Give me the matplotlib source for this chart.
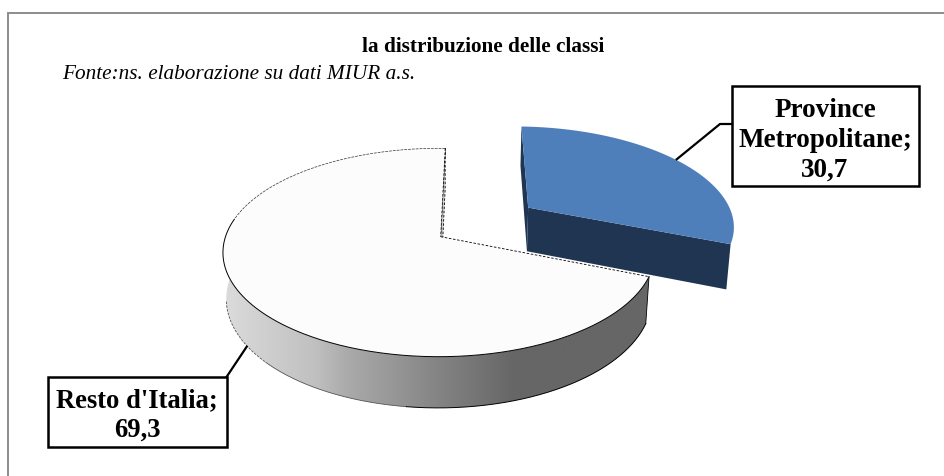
import numpy as np
from matplotlib import pyplot as plt
from matplotlib.colors import LinearSegmentedColormap
from matplotlib.patches import Polygon, Rectangle

plt.rcParams['font.family'] = ['Liberation Serif', 'DejaVu Serif']

categories = ['Province\nMetropolitane', "Resto d'Italia"]
values = [30.7, 69.3]
value_labels = ['30,7', '69,3']
title = 'la distribuzione delle classi'
source = 'Fonte:ns. elaborazione su dati MIUR a.s.'

# camera for the fake 3D pie, in pixels of the 944x476 canvas
cx, cy = 440.7, 236.7
rx, ry = 213.5, 101.8
persp, persp_x, persp_z = 0.1516, 0.008, 0.015
depth = 46.0
start_angle = 88.6
explode = 0.524
explode_angle = 34.9


def project(x, y, z=0.0):
    den = 1 + persp * y + persp_x * x + persp_z * z
    return cx + rx * x / den, cy - ry * y / den + depth * z / den


def rim(a1, a2, z=0.0, off=(0.0, 0.0), n=200):
    t = np.radians(np.linspace(a1, a2, n))
    u, v = project(np.cos(t) + off[0], np.sin(t) + off[1], z)
    return np.column_stack([u, v])


def polygon(ax, pts, **kwargs):
    p = Polygon(pts, closed=True, **kwargs)
    ax.add_patch(p)
    return p


fig = plt.figure(figsize=(9.44, 4.76), dpi=100)
ax = fig.add_axes([0, 0, 1, 1])

sweep = [v / sum(values) * 360 for v in values]
blue_start = start_angle - sweep[0]
off = (explode * np.cos(np.radians(explode_angle)), explode * np.sin(np.radians(explode_angle)))

# big slice: inner face seen through the gap
corner = project(np.cos(np.radians(start_angle)), np.sin(np.radians(start_angle)))
corner_low = project(np.cos(np.radians(start_angle)), np.sin(np.radians(start_angle)), 1)
polygon(ax, [corner, corner_low, project(0, 0, 1), project(0, 0)], facecolor='#d0d0d0',
        edgecolor='black', lw=0.6, ls=(0, (3, 2)), zorder=1)

# big slice: outer wall with the grey ramp
wall_pts = np.vstack([rim(165, blue_start + 360), rim(blue_start + 360, 165, 1)])
wall = polygon(ax, wall_pts, facecolor='none', edgecolor='none', zorder=2)
ramp = LinearSegmentedColormap.from_list('ramp', [(0, '#dcdcdc'), (0.217, '#c0c0c0'), (0.294, '#aaaaaa'),
                                                  (0.528, '#808080'), (0.685, '#666666'), (1, '#666666')])
img = ax.imshow(np.linspace(0, 1, 256).reshape(1, -1), cmap=ramp, extent=(222, 650, 410, 250),
                aspect='auto', zorder=2)
img.set_clip_path(wall)
ax.plot(*rim(190, 222, 1).T, color='#555555', lw=0.6, ls=(0, (3, 1.5)), zorder=3)
ax.plot(*rim(222, 262, 1).T, color='#555555', lw=0.6, zorder=3)
ax.plot(*rim(262, blue_start + 360, 1).T, color='black', lw=0.7, zorder=3)
ax.plot(*np.vstack([rim(blue_start, blue_start, 0, n=1), rim(blue_start, blue_start, 1, n=1)]).T,
        color='black', lw=0.6, zorder=3)

# big slice: top
top = np.vstack([[project(0, 0)], rim(start_angle, blue_start + 360)])
polygon(ax, top, facecolor='#fcfcfc', edgecolor='none', zorder=4)
ax.plot(*rim(start_angle, 170).T, color='#333333', lw=0.5, ls=(0, (4, 1.5)), zorder=5)
ax.plot(*rim(170, blue_start + 360).T, color='black', lw=0.7, zorder=5)
ax.plot(*np.vstack([corner, project(0, 0)]).T, color='black', lw=0.6, ls=(0, (3, 2)), zorder=5)
edge = np.vstack([[project(0, 0)], rim(blue_start, blue_start, n=1)])
ax.plot(*edge.T, color='black', lw=0.6, ls=(0, (3, 2)), zorder=5)

# exploded slice
blue_top = np.vstack([[project(*off)], rim(blue_start, start_angle, off=off)])
a = np.radians(blue_start)
b = np.radians(start_angle)
right = (np.cos(a) + off[0], np.sin(a) + off[1])
back = (np.cos(b) + off[0], np.sin(b) + off[1])
polygon(ax, [project(*off), project(*back), project(*back, 1), project(*off, 1)],
        facecolor='#1f3552', edgecolor='none', zorder=6)
polygon(ax, [project(*off), project(*right), project(*right, 1), project(*off, 1)],
        facecolor='#1f3552', edgecolor='none', zorder=6)
polygon(ax, blue_top, facecolor='#4f7fbb', edgecolor='none', zorder=7)

# frame, only top and left are visible
ax.plot([8, 8, 944], [476, 12.5, 12.5], color='#8c8c8c', lw=1.4, zorder=0, solid_joinstyle='miter')

ax.text(483, 52, title, fontsize=15.3, fontweight='bold', ha='center', va='baseline')
ax.text(62, 79, source, fontsize=15.3, fontstyle='italic', ha='left', va='baseline')

# data labels with leader lines
ax.plot([676.7, 720, 731.7], [159.3, 124, 124], color='black', lw=1.6, zorder=8)
ax.plot([246.7, 226.7], [346.7, 376.7], color='black', lw=1.6, zorder=8)
ax.add_patch(Rectangle((731.7, 86), 187, 100, facecolor='white', edgecolor='black', lw=1.8, zorder=9))
ax.add_patch(Rectangle((47.7, 376.7), 179, 70, facecolor='white', edgecolor='black', lw=1.8, zorder=9))
ax.text(825, 176.5, f'{categories[0]};\n{value_labels[0]}', fontsize=19.5, fontweight='bold', ha='center',
        va='baseline', linespacing=1.25, zorder=10)
ax.text(137, 437, f'{categories[1]};\n{value_labels[1]}', fontsize=19.2, fontweight='bold', ha='center',
        va='baseline', linespacing=1.25, zorder=10)

ax.set_xlim(0, 944)
ax.set_ylim(476, 0)
ax.axis('off')

fig.savefig('out.png', dpi=100)
plt.close()
